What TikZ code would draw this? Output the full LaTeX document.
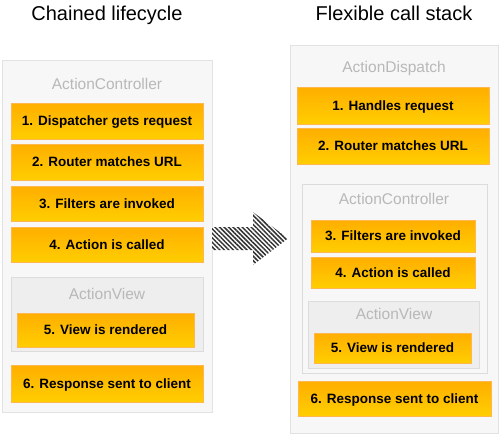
\documentclass[tikz,border=0pt]{standalone}
\usepackage{fontspec}
\setmainfont{Liberation Sans}
\usetikzlibrary{patterns.meta}
\definecolor{outerfill}{HTML}{F7F7F7}
\definecolor{outerdraw}{HTML}{E2E2E2}
\definecolor{viewfill}{HTML}{EEEEEE}
\definecolor{viewdraw}{HTML}{DCDCDC}
\definecolor{labelgray}{HTML}{B8B8B8}
\definecolor{orangetop}{HTML}{FFAE00}
\definecolor{orangebot}{HTML}{FFCE00}
\definecolor{orangedraw}{HTML}{FFB84D}
\definecolor{stripe}{HTML}{333333}
\tikzset{
  frame/.style={draw=outerdraw, fill=outerfill, line width=0.8pt},
  viewframe/.style={draw=viewdraw, fill=viewfill, line width=0.8pt},
  ctrlframe/.style={draw=viewdraw, fill=outerfill, line width=0.8pt},
  stepbox/.style={draw=orangedraw, top color=orangetop, bottom color=orangebot, line width=0.6pt,
    font=\fontsize{13.5}{16}\selectfont\bfseries, text=black, inner sep=0pt,
    text height=9.7pt, text depth=0pt},
  layerlabel/.style={font=\fontsize{15.5}{18}\selectfont, text=labelgray, anchor=base, inner sep=0pt},
  title/.style={font=\fontsize{20}{24}\selectfont, text=black, anchor=base, inner sep=0pt},
}
\newcommand{\stepnode}[6]{% name, x1, y1, x2, y2, text
  \node[stepbox, minimum width={(#4-#2)*1pt}, minimum height={(#5-#3)*1pt}] (#1) at ({(#2+#4)/2},{(#3+#5)/2}) {#6};}
\begin{document}
\begin{tikzpicture}[x=1pt,y=-1pt]
\useasboundingbox (0,0) rectangle (500,442);
% titles
\node[title] (t1) at (107,20) {Chained lifecycle};
\node[title] (t2) at (394,20) {Flexible call stack};
% left column
\draw[frame] (2.5,60) rectangle (212,412);
\node[layerlabel] (lac) at (107,89) {ActionController};
\stepnode{l1}{11}{103}{203}{139}{1. Dispatcher gets request}
\stepnode{l2}{11}{144}{203}{180}{2. Router matches URL}
\stepnode{l3}{11}{186}{203}{221}{3. Filters are invoked}
\stepnode{l4}{11}{227}{203}{262}{4. Action is called}
\draw[viewframe] (11,277) rectangle (203,351);
\node[layerlabel] (lav) at (107,299) {ActionView};
\stepnode{l5}{17}{313}{194}{347}{5. View is rendered}
\stepnode{l6}{11}{365}{203}{402}{6. Response sent to client}
% arrow
\path[fill=white] (212,227) -- (253,227) -- (253,212) -- (288,238.5) -- (253,265) -- (253,250) -- (212,250) -- cycle;
\path[pattern={Lines[angle=-45,distance=3.2pt,line width=1.5pt]}, pattern color=stripe]
  (212,227) -- (253,227) -- (253,212) -- (288,238.5) -- (253,265) -- (253,250) -- (212,250) -- cycle;
% right column
\draw[frame] (290,45) rectangle (498,433);
\node[layerlabel] (rad) at (394,72) {ActionDispatch};
\stepnode{r1}{297}{87}{489}{124}{1. Handles request}
\stepnode{r2}{297}{128}{489}{164}{2. Router matches URL}
\draw[ctrlframe] (302,184) rectangle (487,373);
\node[layerlabel] (rac) at (394,204) {ActionController};
\stepnode{r3}{311}{220}{475}{252}{3. Filters are invoked}
\stepnode{r4}{311}{257}{475}{288}{4. Action is called}
\draw[viewframe] (308,301) rectangle (479,368);
\node[layerlabel] (rav) at (394,319) {ActionView};
\stepnode{r5}{314}{333}{471}{363}{5. View is rendered}
\stepnode{r6}{298}{381}{491}{416}{6. Response sent to client}
\end{tikzpicture}
\end{document}
